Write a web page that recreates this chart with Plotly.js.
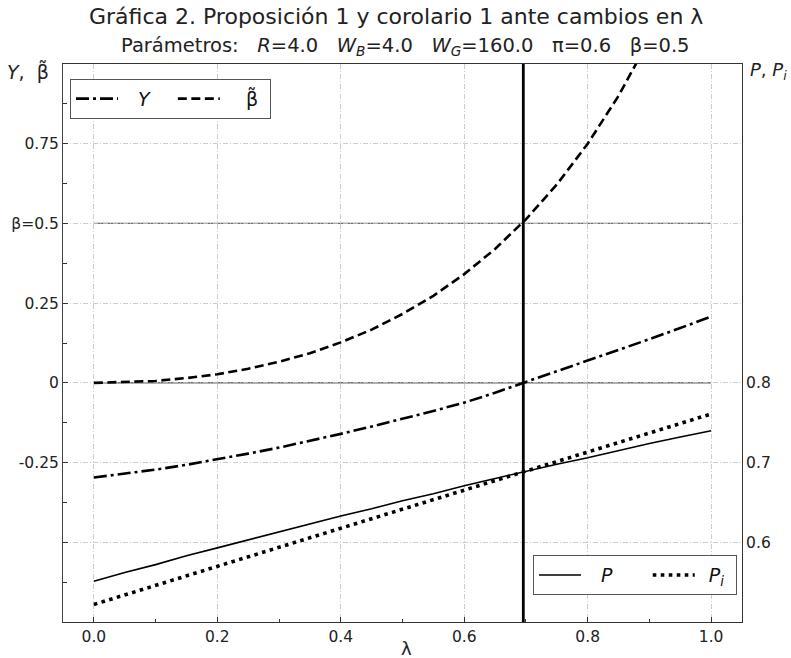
<!DOCTYPE html>
<html>
<head>
<meta charset="utf-8">
<script src="https://cdn.plot.ly/plotly-3.0.1.min.js"></script>
<style>
  html, body { margin: 0; padding: 0; background: #fff; }
  #chart { width: 791px; height: 658px; }
</style>
</head>
<body>
<div id="chart"></div>
<script>
// λ grid and the four series
const lambdaGrid = [0, 0.05, 0.1, 0.15, 0.2, 0.25, 0.3, 0.35, 0.4, 0.45, 0.5,
                    0.55, 0.6, 0.65, 0.7, 0.75, 0.8, 0.85, 0.9, 0.95, 1.0];
const yValues = [-0.297, -0.285, -0.272, -0.257, -0.240, -0.222, -0.203, -0.182, -0.160, -0.137, -0.113,
                 -0.088, -0.062, -0.031, 0.003, 0.036, 0.069, 0.103, 0.137, 0.172, 0.208];
const betaTilde = [0, 0.002, 0.006, 0.015, 0.027, 0.044, 0.066, 0.093, 0.127, 0.167, 0.216,
                   0.273, 0.341, 0.420, 0.513, 0.622, 0.750, 0.900, 1.078, 1.288, 1.538];
const pValues = [0.551, 0.562, 0.572, 0.583, 0.593, 0.603, 0.613, 0.623, 0.633, 0.642, 0.652,
                 0.661, 0.671, 0.680, 0.689, 0.698, 0.706, 0.715, 0.724, 0.732, 0.740];
const piValues = [0.522, 0.534, 0.546, 0.558, 0.570, 0.582, 0.594, 0.606, 0.618, 0.630, 0.641,
                  0.653, 0.665, 0.677, 0.689, 0.701, 0.713, 0.725, 0.737, 0.749, 0.761];

// threshold λ* and the β parameter
const lambdaStar = 0.6957;
const betaParam = 0.5;

// tick values and labels
const xTickVals = [0, 0.2, 0.4, 0.6, 0.8, 1.0];
const xTickText = ['0.0', '0.2', '0.4', '0.6', '0.8', '1.0'];
const leftTickVals = [-0.5, -0.25, 0, 0.25, 0.5, 0.75];
const leftTickText = ['', '-0.25', '0', '0.25', 'β=0.5', '0.75'];
const rightTickVals = [0.6, 0.7, 0.8];
const rightTickText = ['0.6', '0.7', '0.8'];

const FONT = 'DejaVu Sans, sans-serif';
const NB = '\u00a0';
const sp = n => NB.repeat(n);

const traces = [
  {
    x: lambdaGrid, y: yValues, name: sp(2) + '<i>Y</i>' + sp(3), mode: 'lines',
    line: { color: '#000', width: 2.6, dash: '13px,4px,3px,4px' },
    legend: 'legend', yaxis: 'y'
  },
  {
    x: lambdaGrid, y: betaTilde, name: sp(3) + '<span style="font-style:normal">β̃</span>' + sp(1), mode: 'lines',
    line: { color: '#000', width: 2.6, dash: '9px,4.5px' },
    legend: 'legend', yaxis: 'y'
  },
  {
    x: lambdaGrid, y: pValues, name: sp(2) + '<i>P</i>' + sp(5), mode: 'lines',
    line: { color: '#000', width: 1.6 },
    legend: 'legend2', yaxis: 'y2'
  },
  {
    x: lambdaGrid, y: piValues, name: sp(1) + '<i>P<sub>i</sub></i>' + sp(1), mode: 'lines',
    line: { color: '#000', width: 3.6, dash: '3.6px,4.4px' },
    legend: 'legend2', yaxis: 'y2'
  }
];

const gridStyle = { showgrid: true, gridcolor: '#c2c2c2', gridwidth: 0.8, griddash: '5px,2px,1px,2px' };

const layout = {
  width: 791, height: 658,
  margin: { l: 63, r: 49, t: 64, b: 36, pad: 0 },
  paper_bgcolor: '#fff', plot_bgcolor: '#fff',
  font: { family: FONT, size: 15.5, color: '#222' },
  showlegend: true,
  xaxis: Object.assign({
    range: [-0.05, 1.05],
    tickmode: 'array', tickvals: xTickVals, ticktext: xTickText,
    ticks: 'inside', ticklen: 5, tickwidth: 1, tickcolor: '#333',
    minor: { tickmode: 'array', tickvals: [0.1, 0.3, 0.5, 0.7, 0.9], ticks: 'inside', ticklen: 3, tickcolor: '#333', showgrid: false },
    showline: true, linecolor: '#333', linewidth: 1, mirror: true,
    zeroline: false, tickfont: { family: FONT, size: 15.5, color: '#222' }
  }, gridStyle),
  yaxis: Object.assign({
    range: [-0.75, 1.0],
    tickmode: 'array', tickvals: leftTickVals, ticktext: leftTickText,
    ticks: 'inside', ticklen: 5, tickwidth: 1, tickcolor: '#333',
    minor: { tickmode: 'array', tickvals: [-0.625, -0.375, -0.125, 0.125, 0.375, 0.625, 0.875], ticks: 'inside', ticklen: 4, tickcolor: '#333', showgrid: false },
    showline: true, linecolor: '#444', linewidth: 1,
    zeroline: false, tickfont: { family: FONT, size: 15.5, color: '#222' }
  }, gridStyle),
  yaxis2: {
    overlaying: 'y', side: 'right',
    range: [0.5, 1.2],
    tickmode: 'array', tickvals: rightTickVals, ticktext: rightTickText,
    ticks: '', showgrid: false,
    showline: true, linecolor: '#333', linewidth: 1,
    zeroline: false, tickfont: { family: FONT, size: 15.5, color: '#222' }
  },
  legend: {
    orientation: 'h', x: 0.0103, y: 0.9735, xanchor: 'left', yanchor: 'top',
    bgcolor: '#fff', bordercolor: '#555', borderwidth: 1, itemwidth: 45,
    font: { family: FONT, size: 19, color: '#111' }
  },
  legend2: {
    orientation: 'h', x: 0.9926, y: 0.048, xanchor: 'right', yanchor: 'bottom',
    bgcolor: '#fff', bordercolor: '#555', borderwidth: 1, itemwidth: 45,
    font: { family: FONT, size: 19, color: '#111' }
  },
  shapes: [
    { type: 'line', xref: 'x', yref: 'y', x0: 0, x1: 1, y0: 0, y1: 0, layer: 'below',
      line: { color: '#222', width: 1 } },
    { type: 'line', xref: 'x', yref: 'y', x0: 0, x1: 1, y0: betaParam, y1: betaParam, layer: 'below',
      line: { color: '#6e6e6e', width: 1.3 } },
    { type: 'line', xref: 'x', yref: 'paper', x0: lambdaStar, x1: lambdaStar, y0: 0, y1: 1, layer: 'above',
      line: { color: '#000', width: 2.8 } }
  ],
  annotations: [
    { text: 'Gráfica 2. Proposición 1 y corolario 1 ante cambios en λ',
      xref: 'paper', yref: 'paper', x: 0.4904, y: 1.086, xanchor: 'center', yanchor: 'middle',
      showarrow: false, font: { family: FONT, size: 22, color: '#222' } },
    { text: 'Parámetros:' + sp(3) + '<i>R</i>=4.0' + sp(3) + '<i>W<sub>B</sub></i>=4.0' + sp(3) +
            '<i>W<sub>G</sub></i>=160.0' + sp(3) + 'π=0.6' + sp(3) + 'β=0.5',
      xref: 'paper', yref: 'paper', x: 0.5037, y: 1.032, xanchor: 'center', yanchor: 'middle',
      showarrow: false, font: { family: FONT, size: 19.5, color: '#222' } },
    { text: '<i>Y</i>,' + sp(2) + 'β̃',
      xref: 'paper', yref: 'paper', x: -0.0854, y: 0.9875, xanchor: 'left', yanchor: 'middle',
      showarrow: false, font: { family: FONT, size: 19, color: '#222' } },
    { text: '<i>P</i>, <i>P<sub>i</sub></i>',
      xref: 'paper', yref: 'paper', x: 1.0088, y: 0.9875, xanchor: 'left', yanchor: 'middle',
      showarrow: false, font: { family: FONT, size: 18, color: '#222' } },
    { text: 'λ',
      xref: 'paper', yref: 'paper', x: 0.5055, y: -0.0466, xanchor: 'center', yanchor: 'middle',
      showarrow: false, font: { family: FONT, size: 18, color: '#222' } }
  ]
};

Plotly.newPlot('chart', traces, layout, { displayModeBar: false, staticPlot: true }).then(() => {
  // longer line samples in the legend boxes, filling the wider symbol slot
  document.querySelectorAll('.legendlines path').forEach(p => p.setAttribute('d', 'M5,0h42'));
});
</script>
</body>
</html>
